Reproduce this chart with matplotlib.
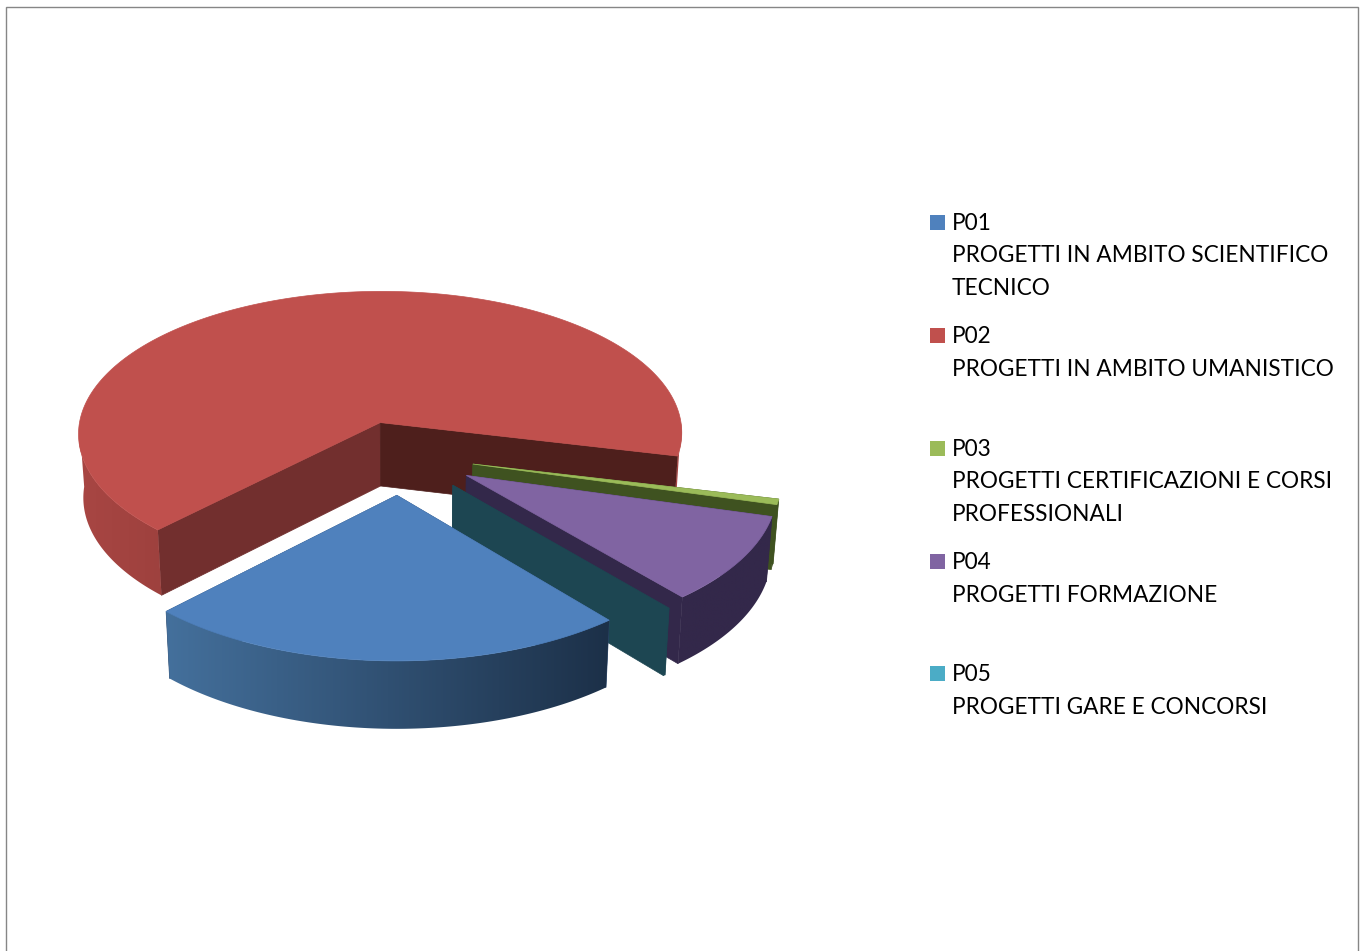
import numpy as np
import matplotlib
matplotlib.use('Agg')
import matplotlib.pyplot as plt
from matplotlib.colors import to_rgb

codes = ['P01', 'P02', 'P03', 'P04', 'P05']
descriptions = ['PROGETTI IN AMBITO SCIENTIFICO\nTECNICO',
                'PROGETTI IN AMBITO UMANISTICO',
                'PROGETTI CERTIFICAZIONI E CORSI\nPROFESSIONALI',
                'PROGETTI FORMAZIONE',
                'PROGETTI GARE E CONCORSI']
values = [23.27, 66.5, 0.6, 9.53, 0.1]

top_colors = ['#4F81BD', '#C0504D', '#9BBB59', '#8064A2', '#4BACC6']
ccw_wall_colors = ['#2C4A70', '#722F2E', '#3F5220', '#33284A', '#1D4652']
cw_wall_colors = ['#2C4A70', '#4E1F1C', '#3F5220', '#33284A', '#1D4652']
rim_right_colors = ['#1C3048', '#9E413E', '#3F5220', '#33284A', '#1D4652']
rim_left_colors = ['#44709C', '#A84643', '#3F5220', '#33284A', '#1D4652']
explode = [0.27, 0.235, 0.245, 0.255, 0.265]
draw_order = [1, 2, 3, 4, 0]
legend_rows = [222, 335, 448, 561, 673]

canvas_size = (1362, 951)
start_angle = -50.3
cx, cy = 400, 455
radius, tilt, depth = 306, 146.2, 65
persp, bottom_scale = 0.0775, 0.985


def project(x, y, lower=False):
    f = 1 / (1 + persp * y)
    if lower:
        f = f * bottom_scale
        return cx + radius * x * f, cy - tilt * y * f + depth * f
    return cx + radius * x * f, cy - tilt * y * f


def face(ax, xs, ys, color):
    ax.fill(xs, ys, color=color, lw=0.5, ec=color)


def draw_rim(ax, xs, ys, left, right):
    # gradient runs along x and is cut to the shape of the rim
    c0, c1 = np.array(to_rgb(left)), np.array(to_rgb(right))
    grad = np.linspace(c0, c1, 256)[np.newaxis, :, :]
    im = ax.imshow(grad, extent=(xs.min(), xs.max(), ys.max(), ys.min()),
                   aspect='auto', interpolation='bilinear', zorder=1)
    poly = plt.Polygon(np.c_[xs, ys], closed=True, transform=ax.transData)
    im.set_clip_path(poly)


def draw_slice(ax, a0, a1, i):
    # a0 is the counter clockwise end, a1 the clockwise one
    mid = np.radians((a0 + a1) / 2)
    ox, oy = explode[i] * np.cos(mid), explode[i] * np.sin(mid)
    th = np.radians(np.linspace(a0, a1, 400))
    x = ox + np.cos(th)
    y = oy + np.sin(th)

    for k, col in ((0, ccw_wall_colors[i]), (-1, cw_wall_colors[i])):
        p0 = project(ox, oy)
        p1 = project(x[k], y[k])
        p2 = project(x[k], y[k], True)
        p3 = project(ox, oy, True)
        face(ax, [p0[0], p1[0], p2[0], p3[0]], [p0[1], p1[1], p2[1], p3[1]], col)

    up_x, up_y = project(x, y)
    lo_x, lo_y = project(x, y, True)

    # only the part of the rim that faces the viewer, cut where the outline turns
    idx = np.flatnonzero(np.sin(th) <= 0)
    if len(idx) > 1:
        for seg in np.split(idx, np.flatnonzero(np.diff(idx) > 1) + 1):
            if len(seg) > 1:
                xs = np.r_[up_x[seg], lo_x[seg][::-1]]
                ys = np.r_[up_y[seg], lo_y[seg][::-1]]
                draw_rim(ax, xs, ys, rim_left_colors[i], rim_right_colors[i])

    # the smallest slice shows only its wall, no top
    if a0 - a1 > 0.5:
        ap = project(ox, oy)
        face(ax, np.r_[ap[0], up_x], np.r_[ap[1], up_y], top_colors[i])


fig = plt.figure(figsize=(canvas_size[0] / 100, canvas_size[1] / 100), dpi=100)
ax = fig.add_axes([0, 0, 1, 1])
ax.axis('off')

# chart border, runs off the bottom of the page
ax.add_patch(plt.Rectangle((6, 6.5), 1352, 960, fc='white', ec='#868686', lw=1))

edges = start_angle - np.cumsum(np.r_[0, np.array(values) * 3.6])
for i in draw_order:
    draw_slice(ax, edges[i], edges[i + 1], i)

for i, row in enumerate(legend_rows):
    ax.add_patch(plt.Rectangle((930, row - 7.5), 15, 15, fc=top_colors[i], ec='none'))
    lines = [codes[i]] + descriptions[i].split('\n')
    for n, line in enumerate(lines):
        ax.text(952, row + 1.5 + n * 32.5, line, family='Lato', fontsize=16.3, color='black',
                va='center', ha='left')

ax.set_xlim(0, canvas_size[0])
ax.set_ylim(canvas_size[1], 0)
fig.savefig('out.png', dpi=100)
